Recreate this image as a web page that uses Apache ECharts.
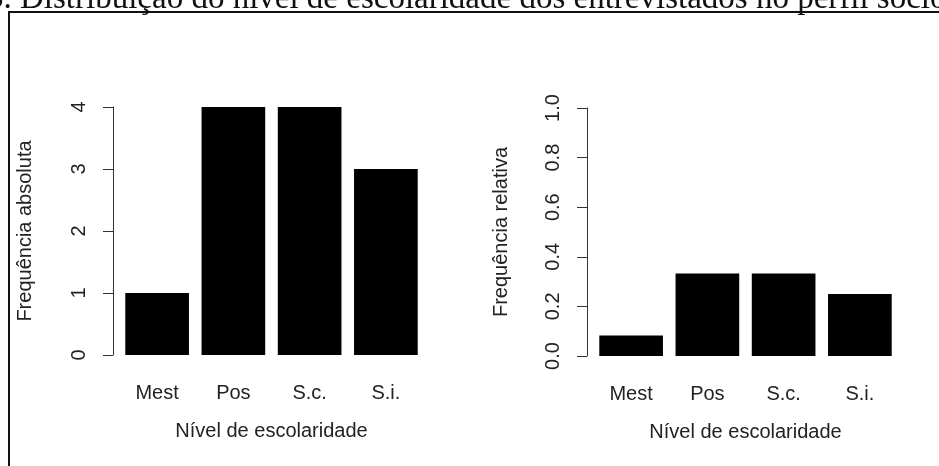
<!DOCTYPE html>
<html>
<head>
<meta charset="utf-8">
<script src="https://cdn.jsdelivr.net/npm/echarts@6/dist/echarts.min.js"></script>
<style>
  html, body { margin: 0; padding: 0; background: #fff; }
  #chart { width: 939px; height: 466px; }
</style>
</head>
<body>
<div id="chart"></div>
<script>
// Escolaridade dos entrevistados: frequência absoluta e relativa
const categories = ['Mest', 'Pos', 'S.c.', 'S.i.'];
const absoluteFreq = [1, 4, 4, 3];
const relativeFreq = [0.083, 0.333, 0.333, 0.25];
const absTicks = { min: 0, max: 4, interval: 1 };
const relTicks = { min: 0, max: 1, interval: 0.2 };
const xTitle = 'Nível de escolaridade';
const yTitleAbs = 'Frequência absoluta';
const yTitleRel = 'Frequência relativa';
const captionLeadText = 'Gráfico 5. ';
const captionText = 'Distribuição do nível de escolaridade dos entrevistados no perfil socioeconômico';

const SANS = '"Liberation Sans", Arial, sans-serif';
const SERIF = '"Liberation Serif", "Times New Roman", serif';
const INK = '#222';
const AXIS = '#333';
const CAPTION_FONT = '33px ' + SERIF;

const chart = echarts.init(document.getElementById('chart'), null, { renderer: 'canvas' });

function xAxisFor(gridIndex) {
  return {
    type: 'category',
    gridIndex,
    data: categories,
    axisLine: { show: false },
    axisTick: { show: false },
    axisLabel: { margin: 28, fontSize: 20, color: INK, fontFamily: SANS },
    name: xTitle,
    nameLocation: 'middle',
    nameGap: 66,
    nameTextStyle: { fontSize: 20, color: INK, fontFamily: SANS }
  };
}

function yAxisFor(gridIndex, ticks, title, fmt, nameGap) {
  return {
    type: 'value',
    gridIndex,
    min: ticks.min,
    max: ticks.max,
    interval: ticks.interval,
    offset: 6,
    axisLine: { show: true, lineStyle: { color: AXIS, width: 1 } },
    axisTick: { show: true, length: 10, lineStyle: { color: AXIS, width: 1 } },
    splitLine: { show: false },
    axisLabel: {
      rotate: 90, margin: 24, fontSize: 20, color: INK, fontFamily: SANS,
      formatter: fmt
    },
    name: title,
    nameLocation: 'middle',
    nameGap,
    nameTextStyle: { fontSize: 20, color: INK, fontFamily: SANS }
  };
}

// The caption sits mostly above the page edge; its main words start near x = 20
const measure = document.createElement('canvas').getContext('2d');
measure.font = CAPTION_FONT;
const captionLead = measure.measureText(captionLeadText).width;

chart.setOption({
  animation: false,
  backgroundColor: '#fff',
  grid: [
    { left: 119, top: 107, width: 305, height: 248 },
    { left: 593, top: 108, width: 305, height: 248 }
  ],
  xAxis: [xAxisFor(0), xAxisFor(1)],
  yAxis: [
    yAxisFor(0, absTicks, yTitleAbs, v => String(v), 78),
    yAxisFor(1, relTicks, yTitleRel, v => v.toFixed(1), 76)
  ],
  series: [
    {
      type: 'bar', xAxisIndex: 0, yAxisIndex: 0, data: absoluteFreq,
      barWidth: '83.5%', itemStyle: { color: '#000' }, silent: true
    },
    {
      type: 'bar', xAxisIndex: 1, yAxisIndex: 1, data: relativeFreq,
      barWidth: '83.5%', itemStyle: { color: '#000' }, silent: true
    }
  ],
  graphic: [
    {
      type: 'rect', silent: true,
      shape: { x: 9, y: 12, width: 960, height: 480 },
      style: { fill: null, stroke: '#111', lineWidth: 2 }
    },
    {
      type: 'text', silent: true, x: 20 - captionLead, y: -17,
      style: {
        text: captionLeadText + captionText, font: CAPTION_FONT, fill: '#111',
        align: 'left', verticalAlign: 'top'
      }
    }
  ]
});
</script>
</body>
</html>
